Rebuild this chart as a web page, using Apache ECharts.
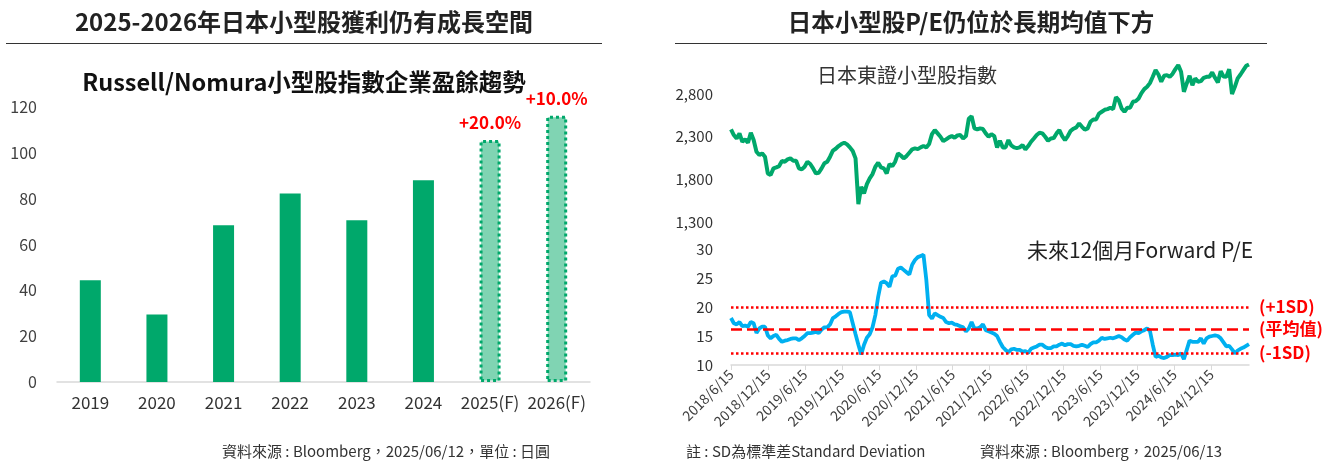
<!DOCTYPE html>
<html><head><meta charset="utf-8">
<script src="https://cdn.jsdelivr.net/npm/echarts@6/dist/echarts.min.js"></script>
<style>html,body{margin:0;padding:0;background:#fff}#c{width:1327px;height:463px}</style>
</head><body><div id="c"></div><script>
// ---- Left chart data ----
const years = ['2019','2020','2021','2022','2023','2024','2025(F)','2026(F)'];
const earnings = [44.4, 29.5, 68.4, 82.3, 70.6, 88.0, 105.6, 116.2];
const isForecast = [false, false, false, false, false, false, true, true];
const growthLabels = ['', '', '', '', '', '', '+20.0%', '+10.0%'];

// ---- Right charts data (sampled every 14 days from 2018/6/15) ----
const startDate = '2018/6/15';
const stepDays = 14;
const tseSmall = [
2386,2320,2280,2339,2241,2269,2230,2347,2261,2124,2085,2105,2066,1870,1851,1929,1941,1956,2015,2007,
2034,2046,2019,2019,1929,1917,1948,2007,1980,1929,1870,1878,1929,1988,2007,2066,2136,2159,2191,2214,
2230,2210,2175,2132,2046,1510,1714,1636,1745,1812,1862,1948,1995,1941,1929,1870,1980,1956,2007,2105,
2080,2046,2073,2113,2152,2163,2155,2175,2191,2175,2214,2331,2378,2339,2300,2249,2269,2292,2308,2288,
2316,2320,2280,2308,2510,2540,2398,2386,2398,2390,2339,2300,2331,2308,2175,2253,2175,2175,2261,2198,
2175,2167,2175,2202,2152,2191,2241,2280,2320,2347,2339,2300,2253,2280,2284,2339,2378,2308,2261,2308,
2370,2394,2410,2456,2417,2382,2398,2476,2503,2503,2570,2593,2616,2624,2640,2624,2765,2726,2632,2593,
2640,2640,2710,2718,2749,2812,2859,2886,2929,3003,3081,3030,2945,3015,3023,3003,3038,3093,3140,3062,
2827,2925,3015,2905,2984,2945,2952,2991,3003,3003,3054,2991,2937,3069,3007,3003,3093,2800,2886,2984,
3030,3081,3132,3148];
const forwardPE = [
18.1,17.2,17.0,17.4,16.7,16.8,16.6,17.4,17.2,15.5,16.3,16.6,16.6,15.1,14.6,15.0,15.2,14.5,14.0,14.2,
14.3,14.5,14.6,14.6,14.3,14.6,15.0,15.5,15.5,15.6,15.7,15.5,16.1,16.5,16.5,17.0,18.1,18.4,18.8,19.1,
19.2,19.2,19.1,17.2,15.3,13.5,11.8,13.5,14.7,15.3,16.5,18.6,21.8,24.2,24.4,24.1,23.5,25.3,25.4,26.6,
26.8,26.4,26.0,25.6,27.3,28.1,28.6,28.8,29.0,24.7,18.6,18.0,18.9,18.6,18.3,18.1,17.4,17.2,17.3,17.0,
16.9,16.7,16.5,15.8,16.3,17.4,16.3,16.3,16.5,17.0,16.0,15.8,15.6,15.4,15.0,14.0,13.1,12.6,12.2,12.7,
12.8,12.6,12.6,12.3,12.4,12.1,12.8,13.0,13.2,13.5,13.5,13.1,12.9,12.9,13.2,13.2,13.5,13.7,13.4,13.6,
13.6,13.3,13.2,13.3,13.5,13.3,13.1,13.6,13.9,13.9,14.2,14.7,14.5,14.6,14.7,14.6,14.8,15.0,14.8,14.4,
14.2,14.8,15.2,15.6,15.5,15.8,16.0,16.3,15.9,13.5,11.4,11.6,11.3,11.2,11.4,11.7,11.7,11.8,11.7,12.0,
11.0,12.6,14.2,14.0,14.0,14.0,14.6,13.7,14.6,14.9,15.0,15.1,15.0,14.6,13.9,13.2,13.3,12.7,12.0,12.5,
12.8,13.0,13.3,13.6];
const sdPlus = 20.0;
const peMean = 16.2;
const sdMinus = 12.1;
const dateTicks = ['2018/6/15','2018/12/15','2019/6/15','2019/12/15','2020/6/15','2020/12/15','2021/6/15',
  '2021/12/15','2022/6/15','2022/12/15','2023/6/15','2023/12/15','2024/6/15','2024/12/15'];

const FONT = "'Noto Sans CJK TC', 'Noto Sans', sans-serif";
const GREEN = '#00a86b';
const t0 = Date.parse(startDate);
const dayOf = s => Math.round((Date.parse(s) - t0) / 86400000);
const tickDays = dateTicks.map(dayOf);
const tickLabelMap = {};
tickDays.forEach((d, i) => { tickLabelMap[d] = dateTicks[i]; });
const xMax = (tseSmall.length - 1) * stepDays;

const barData = earnings.map((v, i) => isForecast[i] ? {
  value: v,
  itemStyle: { color: '#80d4b3', borderColor: GREEN, borderWidth: 3, borderType: 'dotted' },
  label: { show: true, position: 'top', distance: 9, formatter: growthLabels[i],
    color: '#ff0000', fontSize: 17, fontWeight: 'bold', fontFamily: FONT }
} : v);

function txt(x, y, text, size, opts) {
  opts = opts || {};
  return {
    type: 'text', x: x, y: y, silent: true,
    style: {
      text: text, fontSize: size, fontFamily: FONT,
      fontWeight: opts.bold ? 'bold' : 'normal',
      fill: opts.color || '#333',
      textAlign: opts.align || 'left', align: opts.align || 'left',
      textVerticalAlign: 'middle', verticalAlign: 'middle'
    }
  };
}

const chart = echarts.init(document.getElementById('c'));
chart.setOption({
  animation: false,
  textStyle: { fontFamily: FONT },
  grid: [
    { left: 57, top: 107, width: 533, height: 275 },
    { left: 731, top: 60, width: 518, height: 162 },
    { left: 731, top: 249, width: 518, height: 116 }
  ],
  xAxis: [
    { type: 'category', gridIndex: 0, data: years,
      axisLine: { lineStyle: { color: '#d9d9d9', width: 1.5 } }, axisTick: { show: false },
      axisLabel: { interval: 0, fontSize: 17, color: '#333', margin: 12, fontFamily: FONT } },
    { type: 'value', gridIndex: 1, min: 0, max: xMax, show: false },
    { type: 'value', gridIndex: 2, min: 0, max: xMax, splitLine: { show: false },
      axisLine: { lineStyle: { color: '#d9d9d9', width: 1.5 } },
      axisTick: { show: true, customValues: tickDays, length: 5, lineStyle: { color: '#d9d9d9' } },
      axisLabel: { customValues: tickDays, rotate: 45, fontSize: 14, color: '#404040', margin: 7,
        fontFamily: FONT, formatter: v => tickLabelMap[v] || '' } }
  ],
  yAxis: [
    { type: 'value', gridIndex: 0, min: 0, max: 120, interval: 20,
      splitLine: { show: false }, axisLine: { show: false }, axisTick: { show: false },
      axisLabel: { fontSize: 16, color: '#404040', margin: 20, fontFamily: FONT } },
    { type: 'value', gridIndex: 1, min: 1300, max: 3200, interval: 500,
      splitLine: { show: false }, axisLine: { show: false }, axisTick: { show: false },
      axisLabel: { fontSize: 15, color: '#333', margin: 18, fontFamily: FONT, showMaxLabel: false,
        formatter: v => Number(v).toLocaleString('en-US') } },
    { type: 'value', gridIndex: 2, min: 10, max: 30, interval: 5,
      splitLine: { show: false }, axisLine: { show: false }, axisTick: { show: false },
      axisLabel: { fontSize: 15, color: '#333', margin: 18, fontFamily: FONT } }
  ],
  series: [
    { type: 'bar', xAxisIndex: 0, yAxisIndex: 0, barWidth: 21, data: barData,
      itemStyle: { color: GREEN } },
    { type: 'line', xAxisIndex: 1, yAxisIndex: 1, showSymbol: false, symbol: 'none',
      data: tseSmall.map((v, i) => [i * stepDays, v]),
      lineStyle: { color: GREEN, width: 4 } },
    { type: 'line', xAxisIndex: 2, yAxisIndex: 2, showSymbol: false, symbol: 'none',
      data: forwardPE.map((v, i) => [i * stepDays, v]),
      lineStyle: { color: '#00b0f0', width: 3.8 },
      markLine: {
        silent: true, symbol: ['none', 'none'], animation: false,
        label: { show: true, position: 'end', distance: 10, color: '#ff0000', fontSize: 17, fontWeight: 'bold', fontFamily: FONT },
        data: [
          { yAxis: sdPlus, lineStyle: { color: '#ff0000', type: 'dotted', width: 2.5 }, label: { formatter: '(+1SD)' } },
          { yAxis: peMean, lineStyle: { color: '#ff0000', type: [11, 5], width: 2.5 }, label: { formatter: '(平均值)' } },
          { yAxis: sdMinus, lineStyle: { color: '#ff0000', type: 'dotted', width: 2.5 }, label: { formatter: '(-1SD)', padding: [0, 0, 8, 0] } }
        ]
      } }
  ],
  graphic: [
    txt(304, 22, '2025-2026年日本小型股獲利仍有成長空間', 24, { bold: true, align: 'center', color: '#222' }),
    { type: 'line', silent: true, shape: { x1: 6, y1: 43.5, x2: 602, y2: 43.5 }, style: { stroke: '#333', lineWidth: 1.2 } },
    txt(304, 82, 'Russell/Nomura小型股指數企業盈餘趨勢', 23.5, { bold: true, align: 'center', color: '#111' }),
    txt(222, 451, '資料來源 : Bloomberg，2025/06/12，單位 : 日圓', 15, { color: '#333' }),
    txt(971, 22, '日本小型股P/E仍位於長期均值下方', 23.5, { bold: true, align: 'center', color: '#222' }),
    { type: 'line', silent: true, shape: { x1: 675, y1: 43.5, x2: 1267, y2: 43.5 }, style: { stroke: '#333', lineWidth: 1.2 } },
    txt(817, 75, '日本東證小型股指數', 20, { color: '#333' }),
    txt(1253, 250, '未來12個月Forward P/E', 21, { align: 'right', color: '#222' }),
    txt(686, 451, '註 : SD為標準差Standard Deviation', 15, { color: '#333' }),
    txt(980, 451, '資料來源 : Bloomberg，2025/06/13', 15, { color: '#333' })
  ]
});
</script></body></html>
